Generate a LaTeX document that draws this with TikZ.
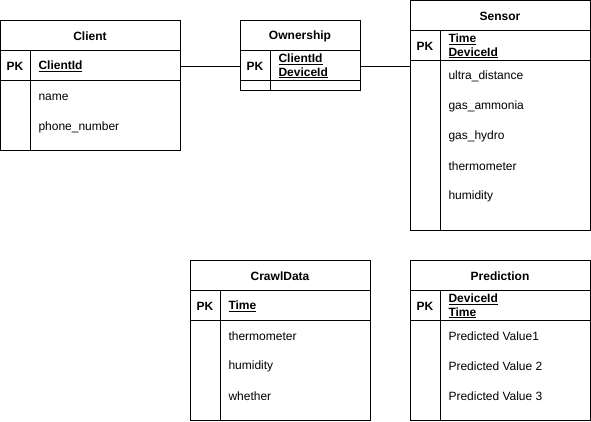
\documentclass[tikz,border=0pt]{standalone}
\usepackage{fontspec}
\setmainfont{Liberation Sans}
\usetikzlibrary{positioning}

\begin{document}
\begin{tikzpicture}[x=1pt,y=-1pt,line width=1pt,
	every node/.style={font=\fontsize{12}{13.5}\selectfont},
	tbl/.style={draw,anchor=north west,inner sep=0pt},
	title/.style={yshift=-1pt,font=\fontsize{12}{13.5}\selectfont\bfseries},
	key/.style={yshift=-1pt,font=\fontsize{12}{13.5}\selectfont\bfseries},
	field/.style={yshift=-1pt,anchor=west,inner sep=0pt},
	pkfield/.style={yshift=-1pt,anchor=west,inner sep=0pt,align=left,font=\fontsize{12}{13.5}\selectfont\bfseries}]
			\useasboundingbox (0,0) rectangle (591,421);
			% Client
			\node[tbl,minimum width=180pt,minimum height=130pt] (client) at (0,20) {};
			\node[title] (client-t) at (90,35) {Client};
			\draw (0,50) -- (180,50) (0,80) -- (180,80) (30,50) -- (30,150);
			\node[key] (clientpk) at (15,65) {PK};
			\node[pkfield] (client-k) at (38,65) {\underline{ClientId}};
			\node[field] (client-1) at (38,96) {name};
			\node[field] (client-2) at (38,126) {phone\_number};
			% Ownership
			\node[tbl,minimum width=120pt,minimum height=70pt] (ownership) at (240,20) {};
			\node[title] (ownership-t) at (300,35) {Ownership};
			\draw (240,50) -- (360,50) (240,80) -- (360,80) (270,50) -- (270,90);
			\node[key] (ownpk) at (255,65) {PK};
			\node[pkfield] (ownership-k) at (278,65) {\underline{ClientId}\\\underline{DeviceId}};
			% Sensor
			\node[tbl,minimum width=180pt,minimum height=230pt] (sensor) at (410,0) {};
			\node[title] (sensor-t) at (500,15) {Sensor};
			\draw (410,30) -- (590,30) (410,60) -- (590,60) (440,30) -- (440,230);
			\node[key] (sensorpk) at (425,45) {PK};
			\node[pkfield] (sensor-k) at (448,45) {\underline{Time}\\\underline{DeviceId}};
			\foreach \f [count=\i] in {ultra\_distance,gas\_ammonia,gas\_hydro,thermometer,humidity}
				\node[field] (sensor-\i) at (448,45+30*\i) {\f};
			% CrawlData
			\node[tbl,minimum width=180pt,minimum height=160pt] (crawl) at (190,260) {};
			\node[title] (crawl-t) at (280,275) {CrawlData};
			\draw (190,290) -- (370,290) (190,320) -- (370,320) (220,290) -- (220,420);
			\node[key] (crawlpk) at (205,305) {PK};
			\node[pkfield] (crawl-k) at (228,305) {\underline{Time}};
			\foreach \f [count=\i] in {thermometer,humidity,whether}
				\node[field] (crawl-\i) at (228,305+30*\i) {\f};
			% Prediction
			\node[tbl,minimum width=180pt,minimum height=160pt] (prediction) at (410,260) {};
			\node[title] (prediction-t) at (500,275) {Prediction};
			\draw (410,290) -- (590,290) (410,320) -- (590,320) (440,290) -- (440,420);
			\node[key] (predpk) at (425,305) {PK};
			\node[pkfield] (prediction-k) at (448,305) {\underline{DeviceId}\\\underline{Time}};
			\foreach \f [count=\i] in {Predicted Value1,Predicted Value 2,Predicted Value 3}
				\node[field] (prediction-\i) at (448,305+30*\i) {\f};
			% relations
			\draw (client.east |- clientpk) -- (ownership.west |- ownpk);
			\draw (ownership.east |- ownpk) -- (sensor.west |- ownpk);
		\end{tikzpicture}
\end{document}
